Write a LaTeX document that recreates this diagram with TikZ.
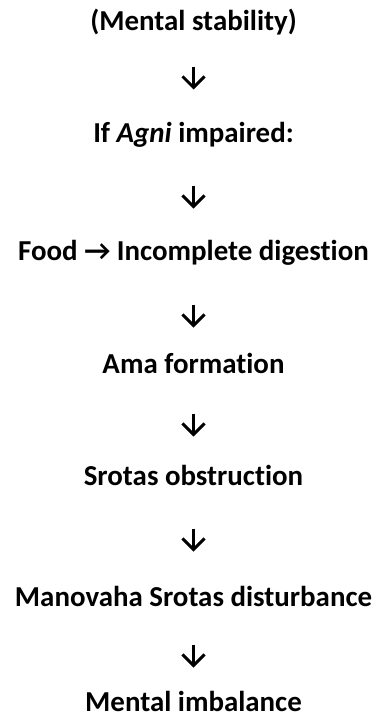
\documentclass[tikz,border=0pt]{standalone}
\usepackage{fontspec}
\setmainfont{Carlito}[Ligatures=CommonOff]
\usetikzlibrary{arrows.meta}
\tikzset{
  lbl/.style={anchor=base, inner sep=0pt, text height=19pt, text depth=6pt, font=\fontsize{28.9}{34}\selectfont\bfseries},
  dn/.style n args={2}{line width=3pt, -{Straight Barb[length=11pt,width=22pt]}, shorten <=#1, shorten >=#2}
}
\begin{document}
\begin{tikzpicture}[x=1pt,y=1pt]
\useasboundingbox (0,0) rectangle (378,-720);
\node[lbl] (n1) at (193.5,-30) {(Mental stability)};
\node[lbl] (n2) at (193.5,-142) {If \textit{Agni} impaired:};
\node[lbl] (n3) at (193.5,-260) {Food → Incomplete digestion};
\node[lbl] (n4) at (193.5,-373) {Ama formation};
\node[lbl] (n5) at (193.5,-485) {Srotas obstruction};
\node[lbl] (n6) at (193.5,-606) {Manovaha Srotas disturbance};
\node[lbl] (n7) at (193.5,-711) {Mental imbalance};
\draw[dn={43pt}{46pt}] (n1.center) -- (n2.center);
\draw[dn={50pt}{45pt}] (n2.center) -- (n3.center);
\draw[dn={51pt}{39pt}] (n3.center) -- (n4.center);
\draw[dn={47pt}{42pt}] (n4.center) -- (n5.center);
\draw[dn={50pt}{48pt}] (n5.center) -- (n6.center);
\draw[dn={45pt}{37pt}] (n6.center) -- (n7.center);
\end{tikzpicture}
\end{document}
